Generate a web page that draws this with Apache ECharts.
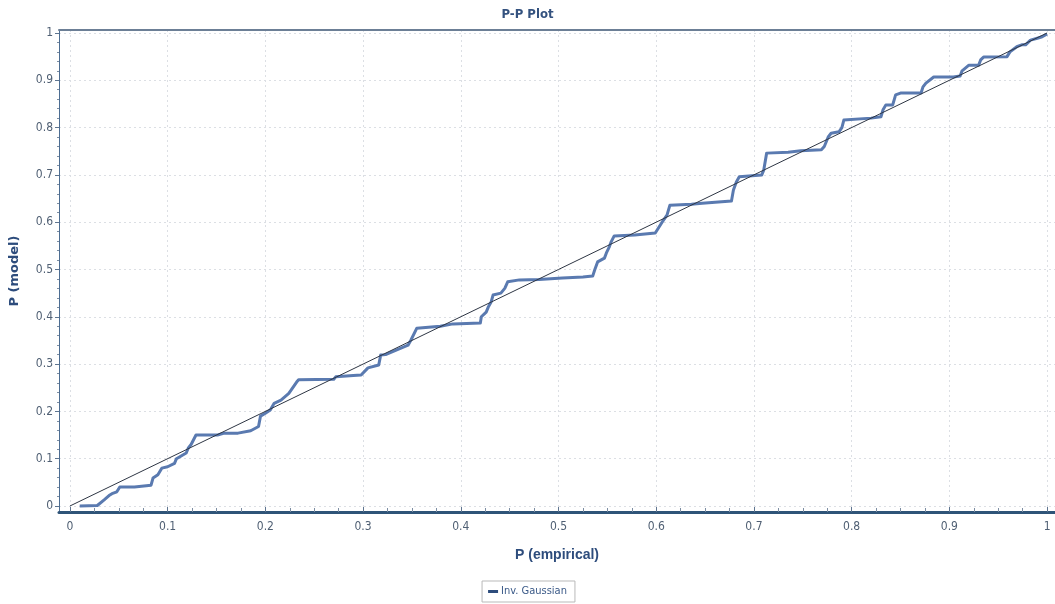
<!DOCTYPE html>
<html>
<head>
<meta charset="utf-8">
<script src="https://cdn.jsdelivr.net/npm/echarts@6/dist/echarts.min.js"></script>
<style>
  html, body { margin: 0; padding: 0; background: #ffffff; }
  #chart { width: 1055px; height: 604px; }
</style>
</head>
<body>
<div id="chart"></div>
<script>
// P-P plot: empirical probability vs. fitted Inverse Gaussian model probability
const ppEmpirical = [0.010, 0.028, 0.035, 0.040, 0.043, 0.048, 0.051, 0.066, 0.068, 0.083,
  0.085, 0.090, 0.094, 0.100, 0.107, 0.109, 0.119, 0.121, 0.124, 0.129,
  0.151, 0.158, 0.172, 0.185, 0.193, 0.195, 0.200, 0.205, 0.209, 0.216,
  0.224, 0.232, 0.234, 0.270, 0.272, 0.290, 0.298, 0.305, 0.316, 0.318,
  0.323, 0.346, 0.349, 0.355, 0.357, 0.379, 0.392, 0.420, 0.421, 0.426,
  0.428, 0.431, 0.433, 0.441, 0.445, 0.448, 0.460, 0.480, 0.504, 0.525,
  0.535, 0.537, 0.540, 0.547, 0.549, 0.552, 0.554, 0.557, 0.578, 0.599,
  0.606, 0.611, 0.614, 0.636, 0.647, 0.677, 0.679, 0.682, 0.685, 0.708,
  0.710, 0.713, 0.715, 0.735, 0.748, 0.769, 0.772, 0.776, 0.779, 0.787,
  0.790, 0.792, 0.794, 0.820, 0.830, 0.832, 0.835, 0.842, 0.845, 0.850,
  0.871, 0.873, 0.876, 0.884, 0.904, 0.911, 0.913, 0.920, 0.930, 0.932,
  0.935, 0.959, 0.962, 0.969, 0.974, 0.978, 0.983, 0.990, 0.995, 1.000];
const ppModel = [0.000, 0.001, 0.013, 0.022, 0.026, 0.030, 0.040, 0.040, 0.044, 0.044,
  0.059, 0.066, 0.080, 0.083, 0.090, 0.100, 0.112, 0.122, 0.130, 0.150,
  0.150, 0.154, 0.154, 0.159, 0.168, 0.190, 0.196, 0.203, 0.217, 0.224,
  0.238, 0.262, 0.267, 0.268, 0.273, 0.276, 0.277, 0.292, 0.298, 0.319,
  0.320, 0.340, 0.351, 0.376, 0.380, 0.380, 0.385, 0.387, 0.400, 0.410,
  0.420, 0.431, 0.446, 0.450, 0.460, 0.474, 0.478, 0.479, 0.482, 0.484,
  0.486, 0.499, 0.516, 0.524, 0.535, 0.548, 0.559, 0.571, 0.573, 0.577,
  0.600, 0.615, 0.636, 0.638, 0.640, 0.645, 0.668, 0.685, 0.696, 0.700,
  0.710, 0.746, 0.748, 0.748, 0.751, 0.753, 0.760, 0.780, 0.788, 0.791,
  0.800, 0.816, 0.820, 0.820, 0.823, 0.837, 0.848, 0.848, 0.869, 0.873,
  0.873, 0.886, 0.894, 0.907, 0.907, 0.909, 0.920, 0.932, 0.932, 0.943,
  0.949, 0.950, 0.960, 0.971, 0.975, 0.975, 0.985, 0.989, 0.992, 0.998];
const refLine = [[0, 0], [1, 1]];
const majorTicks = [0, 0.1, 0.2, 0.3, 0.4, 0.5, 0.6, 0.7, 0.8, 0.9, 1];
const xMinorTicks = [0.025, 0.05, 0.075, 0.125, 0.15, 0.175, 0.225, 0.25, 0.275,
  0.325, 0.35, 0.375, 0.425, 0.45, 0.475, 0.525, 0.55, 0.575, 0.625, 0.65, 0.675,
  0.725, 0.75, 0.775, 0.825, 0.85, 0.875, 0.925, 0.95, 0.975];
const yMinorTicks = [0.02, 0.04, 0.06, 0.08, 0.12, 0.14, 0.16, 0.18, 0.22, 0.24, 0.26, 0.28,
  0.32, 0.34, 0.36, 0.38, 0.42, 0.44, 0.46, 0.48, 0.52, 0.54, 0.56, 0.58,
  0.62, 0.64, 0.66, 0.68, 0.72, 0.74, 0.76, 0.78, 0.82, 0.84, 0.86, 0.88,
  0.92, 0.94, 0.96, 0.98];
const seriesName = 'Inv. Gaussian';

const xMin = -0.0112, xMax = 1.0081;
const yMin = -0.0127, yMax = 1.0063;
const tickFont = '"DejaVu Sans Condensed", "Liberation Sans", sans-serif';
const fmt = v => (v === 0 || v === 1) ? String(v) : v.toFixed(1);

const chart = echarts.init(document.getElementById('chart'), null, { renderer: 'canvas' });
chart.setOption({
  animation: false,
  backgroundColor: '#ffffff',
  title: {
    text: 'P-P Plot',
    left: 'center',
    top: 3,
    textStyle: { fontFamily: '"DejaVu Sans Condensed", sans-serif', fontSize: 13, fontWeight: 'bold', color: '#34527f' }
  },
  legend: {
    data: [{ name: seriesName, itemStyle: { color: '#2d4c7c' } }],
    bottom: 2,
    left: 'center',
    icon: 'rect',
    itemWidth: 10,
    itemHeight: 3,
    itemGap: 4,
    padding: [5, 8, 5, 6],
    borderColor: '#b9b9b9',
    borderWidth: 1,
    textStyle: { fontFamily: tickFont, fontSize: 11, color: '#3b5a88', padding: [0, 0, 0, -2] }
  },
  grid: { left: 54, right: 0, top: 30, bottom: 92, containLabel: false },
  xAxis: [
    {
      type: 'value', min: xMin, max: xMax, position: 'bottom',
      name: 'P (empirical)', nameLocation: 'middle', nameGap: 36,
      nameTextStyle: { fontFamily: '"Liberation Sans", sans-serif', fontSize: 14, fontWeight: 'bold', color: '#2d4c7c' },
      axisLine: { show: true, onZero: false, lineStyle: { color: '#2f5478', width: 3 } },
      axisTick: { show: true, inside: true, length: 5, customValues: majorTicks, lineStyle: { color: '#5f7590' } },
      axisLabel: { customValues: majorTicks, formatter: fmt, margin: 9, fontFamily: tickFont, fontSize: 12, color: '#4f5f73' },
      splitLine: { show: true, lineStyle: { color: '#dcdfe4', type: [2, 3], width: 1 } }
    },
    {
      type: 'value', min: xMin, max: xMax, position: 'bottom', offset: 0,
      axisLine: { show: false, onZero: false },
      axisTick: { show: true, inside: true, length: 4, customValues: xMinorTicks, lineStyle: { color: '#7d8ea3' } },
      axisLabel: { show: false },
      splitLine: { show: false }
    },
    {
      type: 'value', min: xMin, max: xMax, position: 'top', offset: 0,
      axisLine: { show: true, onZero: false, lineStyle: { color: '#6c7f96', width: 2 } },
      axisTick: { show: false }, axisLabel: { show: false }, splitLine: { show: false }
    }
  ],
  yAxis: [
    {
      type: 'value', min: yMin, max: yMax, position: 'left',
      name: 'P (model)', nameLocation: 'middle', nameGap: 38,
      nameTextStyle: { fontFamily: '"DejaVu Sans", sans-serif', fontSize: 13, fontWeight: 'bold', color: '#2d4c7c' },
      axisLine: { show: true, onZero: false, lineStyle: { color: '#4d6d92', width: 1 } },
      axisTick: { show: true, length: 4, customValues: majorTicks, lineStyle: { color: '#5f7590' } },
      axisLabel: { customValues: majorTicks, formatter: fmt, margin: 6, fontFamily: tickFont, fontSize: 12, color: '#4f5f73' },
      splitLine: { show: true, lineStyle: { color: '#dcdfe4', type: [2, 3], width: 1 } }
    },
    {
      type: 'value', min: yMin, max: yMax, position: 'left', offset: 0,
      axisLine: { show: false, onZero: false },
      axisTick: { show: true, length: 2, customValues: yMinorTicks, lineStyle: { color: '#7d8ea3' } },
      axisLabel: { show: false },
      splitLine: { show: false }
    }
  ],
  series: [
    {
      name: seriesName,
      type: 'line',
      xAxisIndex: 0, yAxisIndex: 0,
      data: ppEmpirical.map((x, i) => [x, ppModel[i]]),
      showSymbol: false,
      lineStyle: { color: '#5a7ab0', width: 3, join: 'round' },
      itemStyle: { color: '#5a7ab0' },
      z: 3
    },
    {
      name: 'reference',
      type: 'line',
      xAxisIndex: 0, yAxisIndex: 0,
      data: refLine,
      showSymbol: false,
      lineStyle: { color: '#2e3644', width: 1 },
      z: 4
    }
  ]
});
</script>
</body>
</html>
